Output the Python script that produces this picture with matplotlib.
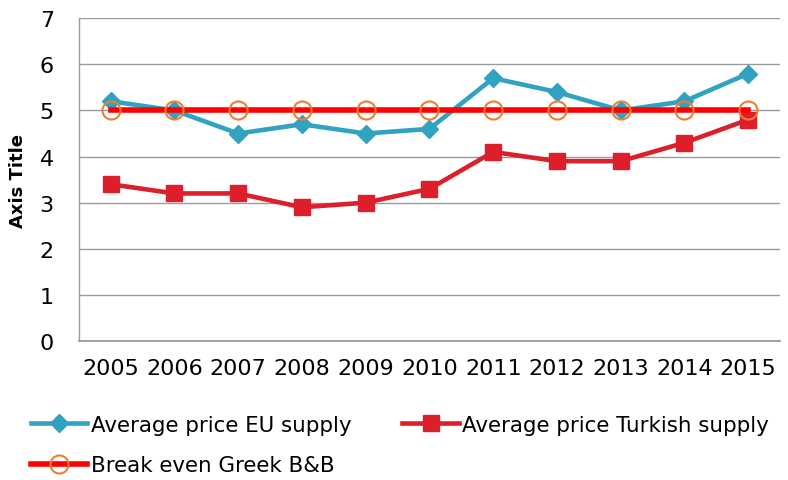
import matplotlib.pyplot as plt

years = ['2005', '2006', '2007', '2008', '2009', '2010', '2011', '2012', '2013', '2014', '2015']
eu_supply = [5.2, 5.0, 4.5, 4.7, 4.5, 4.6, 5.7, 5.4, 5.0, 5.2, 5.8]
turkish_supply = [3.4, 3.2, 3.2, 2.9, 3.0, 3.3, 4.1, 3.9, 3.9, 4.3, 4.8]
break_even = [5, 5, 5, 5, 5, 5, 5, 5, 5, 5, 5]

plt.rcParams['font.family'] = ['DejaVu Sans']

fig = plt.figure(figsize=(7.88, 4.81), dpi=100)
ax = fig.add_axes([0.1, 0.289, 0.89, 0.671])

x = range(len(years))
l_eu, = ax.plot(x, eu_supply, color='#31A3C1', linewidth=3.3, marker='D', markersize=9,
                label='Average price EU supply', zorder=3)
l_tr, = ax.plot(x, turkish_supply, color='#DC1F2A', linewidth=3.3, marker='s', markersize=11,
                label='Average price Turkish supply', zorder=3)
l_be, = ax.plot(x, break_even, color='#FF0000', linewidth=4, marker='o', markersize=13,
                markerfacecolor='none', markeredgecolor='#ED7D31', markeredgewidth=1.5,
                label='Break even Greek B&B', zorder=4)

ax.set_xlim(-0.5, len(years) - 0.5)
ax.set_ylim(0, 7)
ax.set_yticks(range(0, 8))
ax.set_xticks(list(x))
ax.set_xticklabels(years)
ax.tick_params(axis='both', length=0, labelsize=16)
ax.tick_params(axis='x', pad=12)
ax.tick_params(axis='y', pad=18)
ax.grid(axis='y', color='#9A9A9A', linewidth=1)
ax.set_axisbelow(True)
for s in ['top', 'right']:
    ax.spines[s].set_visible(False)
ax.spines['left'].set_color('#9A9A9A')
ax.spines['bottom'].set_color('#9A9A9A')
ax.spines['left'].set_linewidth(1)
ax.spines['bottom'].set_linewidth(1.3)
ax.set_ylabel('Axis Title', fontsize=13, fontweight='bold', labelpad=9)

fig.legend(handles=[l_eu, l_be, l_tr], ncol=2, loc='upper left', bbox_to_anchor=(0.028, 0.153),
           frameon=False, fontsize=15.4, handlelength=2.65, handletextpad=0.15,
           columnspacing=2.4, labelspacing=0.95, borderaxespad=0)

plt.savefig('out.png', dpi=100)
